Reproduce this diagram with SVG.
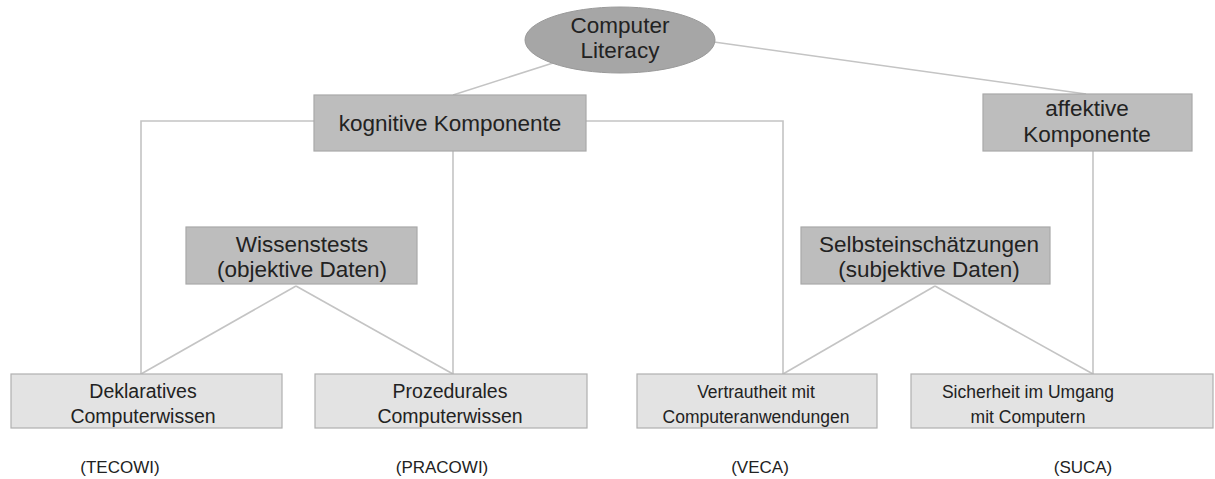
<svg xmlns="http://www.w3.org/2000/svg" width="1215" height="479" viewBox="0 0 1215 479">
<style>
.ln{fill:none;stroke:#c4c4c4;stroke-width:1.6}
.dk{fill:#bdbdbd;stroke:#a8a8a8;stroke-width:1.2}
.lt{fill:#e3e3e3;stroke:#b0b0b0;stroke-width:1.2}
text{font-family:"Liberation Sans",Arial,sans-serif;fill:#222;text-anchor:middle}
.t20{font-size:22.5px}
.t16{font-size:19.5px}
.t17{font-size:17.5px}
.t18{font-size:17px}
</style>
<rect width="1215" height="479" fill="#fff"/>
<g id="connectors">
<line class="ln" x1="553" y1="63" x2="453" y2="95"/>
<line class="ln" x1="714" y1="42" x2="1086" y2="94"/>
<polyline class="ln" points="314,121 141,121 141,374"/>
<polyline class="ln" points="586,121 783,121 783,374"/>
<line class="ln" x1="453" y1="151" x2="453" y2="374"/>
<line class="ln" x1="1093" y1="151" x2="1093" y2="374"/>
<line class="ln" x1="296" y1="286" x2="141" y2="374"/>
<line class="ln" x1="296" y1="286" x2="453" y2="374"/>
<line class="ln" x1="935" y1="286" x2="783" y2="374"/>
<line class="ln" x1="935" y1="286" x2="1093" y2="374"/>
</g>
<g id="computer-literacy">
<ellipse cx="620" cy="40" rx="95" ry="33" fill="#a6a6a6" stroke="#999" stroke-width="1"/>
<text class="t20" x="620" y="33">Computer</text>
<text class="t20" x="620" y="58">Literacy</text>
</g>
<g id="kognitive">
<rect class="dk" x="314" y="95" width="272" height="56"/>
<text class="t20" x="450" y="131">kognitive Komponente</text>
</g>
<g id="affektive">
<rect class="dk" x="983" y="94" width="209" height="57"/>
<text class="t20" x="1087" y="116">affektive</text>
<text class="t20" x="1087" y="142">Komponente</text>
</g>
<g id="wissenstests">
<rect class="dk" x="186" y="227" width="231" height="57"/>
<text class="t20" x="302" y="252">Wissenstests</text>
<text class="t20" x="302" y="277">(objektive Daten)</text>
</g>
<g id="selbsteinschaetzungen">
<rect class="dk" x="801" y="227" width="249" height="57"/>
<text class="t20" x="929" y="252">Selbsteinschätzungen</text>
<text class="t20" x="929" y="277">(subjektive Daten)</text>
</g>
<g id="deklaratives">
<rect class="lt" x="11" y="374" width="271" height="54"/>
<text class="t16" x="143" y="398">Deklaratives</text>
<text class="t16" x="143" y="423">Computerwissen</text>
</g>
<g id="prozedurales">
<rect class="lt" x="315" y="374" width="272" height="54"/>
<text class="t16" x="450" y="398">Prozedurales</text>
<text class="t16" x="450" y="423">Computerwissen</text>
</g>
<g id="vertrautheit">
<rect class="lt" x="637" y="374" width="240" height="54"/>
<text class="t17" x="756" y="398">Vertrautheit mit</text>
<text class="t17" x="756" y="423">Computeranwendungen</text>
</g>
<g id="sicherheit">
<rect class="lt" x="911" y="374" width="302" height="54"/>
<text class="t17" x="1028" y="398">Sicherheit im Umgang</text>
<text class="t17" x="1028" y="423">mit Computern</text>
</g>
<g id="labels">
<text class="t18" x="120" y="473">(TECOWI)</text>
<text class="t18" x="442" y="473">(PRACOWI)</text>
<text class="t18" x="760" y="473">(VECA)</text>
<text class="t18" x="1083" y="473">(SUCA)</text>
</g>
</svg>
